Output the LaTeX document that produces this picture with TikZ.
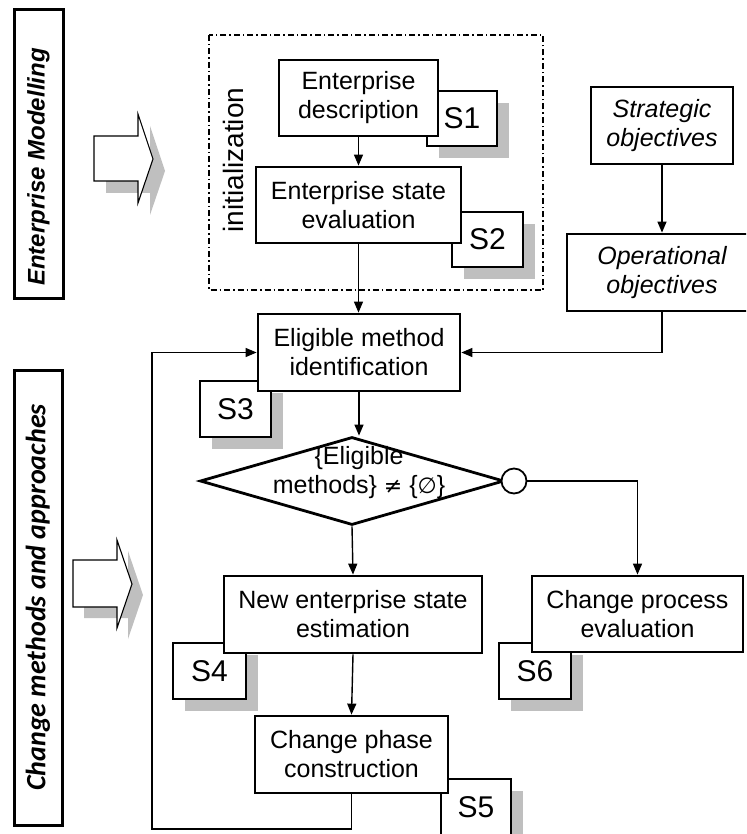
\documentclass[tikz,border=0pt]{standalone}
\usepackage{fontspec}
\setmainfont{Liberation Sans}
\newfontfamily\carlito{Carlito}
\newfontfamily\dejavu{DejaVu Sans}
\usetikzlibrary{arrows.meta,shapes.geometric,shadows}
\begin{document}
\begin{tikzpicture}[x=1pt,y=-1pt,
  mainbox/.style={draw, line width=2.8pt, fill=white, align=center, inner sep=0pt,
    font=\fontsize{25}{29}\selectfont},
  sbox/.style={draw, line width=1.4pt, fill=white, inner sep=0pt,
    font=\fontsize{30}{30}\selectfont,
    general shadow={fill=black!25, shadow xshift=12pt, shadow yshift=-12pt}},
  sidebox/.style={draw, line width=3pt, inner sep=0pt},
  conn/.style={line width=1.4pt},
  arr/.style={conn, -{Triangle[length=11pt,width=9pt]}},
  shade/.style={fill=black!25},
  bigarrow/.style={draw, line width=1.1pt, fill=white, line join=miter}
]
\useasboundingbox (0,0) rectangle (746,834);
\clip (0,0) rectangle (746,834);

% side boxes
\node[sidebox, minimum width=49pt, minimum height=288pt] (EM) at (38.5,154) {};
\node[rotate=90, font=\fontsize{24}{24}\selectfont\bfseries\itshape] (EMt) at (38.5,167) {Enterprise Modelling};
\node[sidebox, minimum width=48pt, minimum height=455pt] (CMA) at (38,597.5) {};
\node[rotate=90, font=\carlito\fontsize{28}{28}\selectfont\bfseries\itshape] (CMAt) at (CMA) {Change methods and approaches};

% big arrows
\fill[shade] (106,148) -- (150,148) -- (150,126) -- (165,171) -- (150,215) -- (150,193) -- (106,193) -- cycle;
\draw[bigarrow] (94,136) -- (138,136) -- (138,114) -- (153,159) -- (138,203) -- (138,181) -- (94,181) -- cycle;
\fill[shade] (84,571) -- (128,571) -- (128,551) -- (143,595) -- (128,639) -- (128,618) -- (84,618) -- cycle;
\draw[bigarrow] (73,560) -- (117,560) -- (117,540) -- (132,584) -- (117,628) -- (117,607) -- (73,607) -- cycle;

% initialization frame
\draw[line width=1.2pt, dash pattern=on 6pt off 3pt on 1.5pt off 3pt] (209,35) rectangle (543,290);
\node[rotate=90, font=\fontsize{28}{28}\selectfont] (init) at (233,160) {initialization};

% S boxes (behind main boxes)
\node[sbox, minimum width=70pt, minimum height=55pt] (S1) at (462,118.5) {S1};
\node[sbox, minimum width=71pt, minimum height=55pt] (S2) at (487.5,239.5) {S2};
\node[sbox, minimum width=71pt, minimum height=56pt] (S3) at (235.5,409) {S3};
\node[sbox, minimum width=73pt, minimum height=56pt] (S4) at (209.5,671) {S4};
\node[sbox, minimum width=70pt, minimum height=57pt] (S5) at (476,807.5) {S5};
\node[sbox, minimum width=72pt, minimum height=56pt] (S6) at (535,671) {S6};

% main boxes
\node[mainbox, minimum width=159pt, minimum height=76pt] (ED) at (358.5,98) {Enterprise\\description};
\node[mainbox, minimum width=205pt, minimum height=76pt] (ESE) at (358.5,205) {Enterprise state\\evaluation};
\node[mainbox, minimum width=202pt, minimum height=77pt] (EMI) at (359,352.5) {Eligible method\\identification};
\node[draw, line width=2.8pt, diamond, minimum width=304pt, minimum height=88pt, inner sep=0pt] (D) at (352,481) {};
\node[align=center, font=\fontsize{25}{29}\selectfont] (Dt) at (359,473) {\{Eligible\\methods\} {\dejavu\fontsize{22}{22}\selectfont≠} \{{\dejavu\fontsize{22}{22}\selectfont∅}\}};
\node[draw, circle, line width=1.8pt, fill=white, minimum size=25pt, inner sep=0pt] (C) at (514,481) {};
\node[mainbox, minimum width=258pt, minimum height=77pt] (NESE) at (353,614.5) {New enterprise state\\estimation};
\node[mainbox, minimum width=193pt, minimum height=77pt] (CPC) at (351.5,754.5) {Change phase\\construction};
\node[mainbox, minimum width=211pt, minimum height=76pt] (CPE) at (637.5,614) {Change process\\evaluation};
\node[mainbox, minimum width=142pt, minimum height=77pt, font=\fontsize{25}{29}\selectfont\itshape] (SO) at (662,125.5) {Strategic\\objectives};
\node[mainbox, minimum width=190pt, minimum height=77pt, font=\fontsize{25}{29}\selectfont\itshape] (OO) at (662,272.5) {Operational\\objectives};

% connectors
\coordinate (fbl) at (152,829);
\draw[arr] (ED.south) -- (ED.south |- ESE.north);
\draw[arr] (ESE.south) -- (ESE.south |- EMI.north);
\draw[arr] (EMI.south) -- (EMI.south |- D.north);
\draw[arr] (D.south) -- (NESE.north);
\draw[arr] (NESE.south) -- (CPC.north);
\draw[arr] (CPC.south) |- (fbl) |- (EMI.west);
\draw[arr] (SO) -- (OO);
\draw[arr] (OO.south) |- (EMI.east);
\draw[arr] (C.east) -| (CPE.north);
\end{tikzpicture}
\end{document}
